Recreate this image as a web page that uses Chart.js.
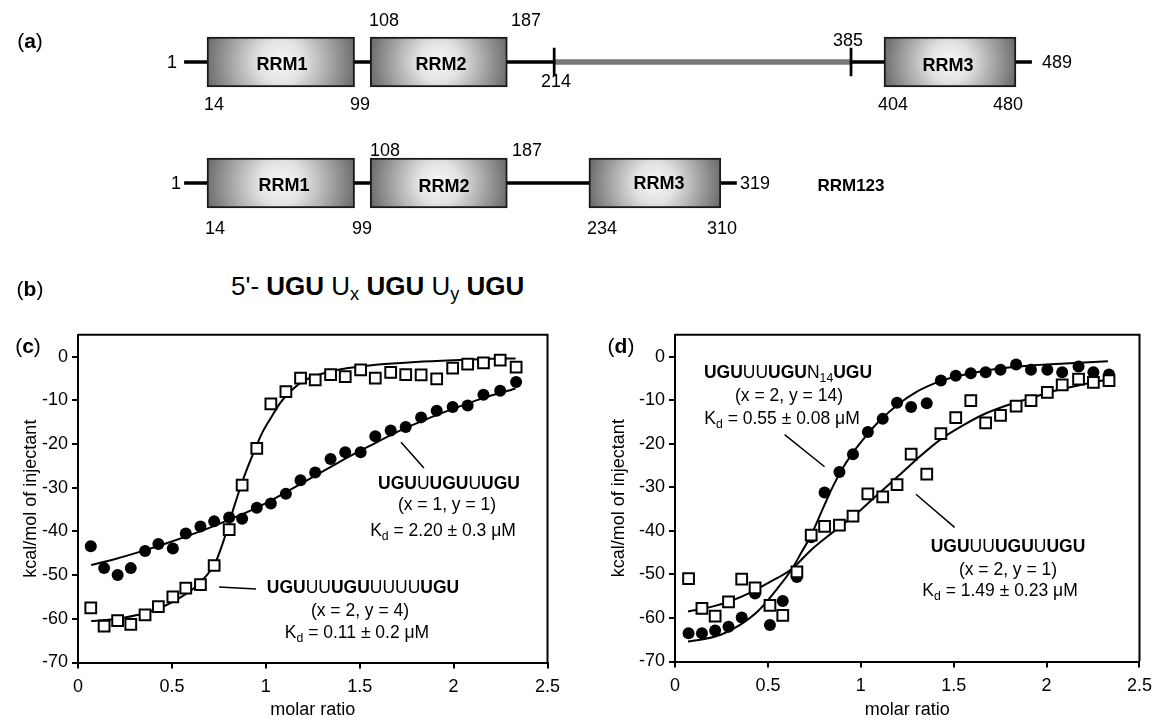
<!DOCTYPE html>
<html>
<head>
<meta charset="utf-8">
<script src="https://cdn.jsdelivr.net/npm/chart.js@4.4.1/dist/chart.umd.min.js"></script>
<style>
  html,body{margin:0;padding:0;background:#fff;}
  #wrap{position:relative;width:1160px;height:720px;background:#fff;overflow:hidden;
        font-family:"Liberation Sans",Arial,Helvetica,sans-serif;color:#000;}
  canvas{position:absolute;}
  .t{position:absolute;transform:translate(-50%,-50%);white-space:nowrap;line-height:1;}
  .l{position:absolute;transform:translate(0,-50%);white-space:nowrap;line-height:1;}
  .num{font-size:18px;}
  .dom{font-size:18px;font-weight:bold;}
  .ann{font-size:17.5px;}
  .pl{font-size:21px;}
  sub{font-size:70%;vertical-align:-0.3em;line-height:0;}
</style>
</head>
<body>
<div id="wrap">
  <canvas id="ca" width="1160" height="250" style="left:0;top:0;width:1160px;height:250px"></canvas>
  <canvas id="cc" width="580" height="401" style="left:0;top:320px;width:580px;height:401px"></canvas>
  <canvas id="cd" width="570" height="401" style="left:590px;top:320px;width:570px;height:401px"></canvas>

  <!-- panel labels -->
  <div class="t pl" style="left:30px;top:40px">(<b>a</b>)</div>
  <div class="t pl" style="left:30px;top:288px">(<b>b</b>)</div>
  <div class="t pl" style="left:28px;top:345px">(<b>c</b>)</div>
  <div class="t pl" style="left:621px;top:345px">(<b>d</b>)</div>

  <!-- panel a row 1 -->
  <div class="t num" style="left:172px;top:62px">1</div>
  <div class="t dom" style="left:282px;top:64px">RRM1</div>
  <div class="t dom" style="left:441px;top:64px">RRM2</div>
  <div class="t dom" style="left:948px;top:65px">RRM3</div>
  <div class="t num" style="left:1057px;top:62px">489</div>
  <div class="t num" style="left:384px;top:20px">108</div>
  <div class="t num" style="left:526px;top:20px">187</div>
  <div class="t num" style="left:214px;top:104px">14</div>
  <div class="t num" style="left:360px;top:104px">99</div>
  <div class="t num" style="left:556px;top:81px">214</div>
  <div class="t num" style="left:848px;top:40px">385</div>
  <div class="t num" style="left:893px;top:104px">404</div>
  <div class="t num" style="left:1008px;top:104px">480</div>
  <!-- panel a row 2 -->
  <div class="t num" style="left:176px;top:183px">1</div>
  <div class="t dom" style="left:284px;top:185px">RRM1</div>
  <div class="t dom" style="left:444px;top:186px">RRM2</div>
  <div class="t dom" style="left:659px;top:183px">RRM3</div>
  <div class="t num" style="left:755px;top:183px">319</div>
  <div class="t dom" style="left:851px;top:185px;font-size:17px">RRM123</div>
  <div class="t num" style="left:385px;top:150px">108</div>
  <div class="t num" style="left:527px;top:150px">187</div>
  <div class="t num" style="left:215px;top:228px">14</div>
  <div class="t num" style="left:362px;top:228px">99</div>
  <div class="t num" style="left:602px;top:228px">234</div>
  <div class="t num" style="left:722px;top:228px">310</div>

  <!-- panel b -->
  <div class="l" style="left:231px;top:286px;font-size:26px">5'- <b>UGU</b> U<sub>x</sub> <b>UGU</b> U<sub>y</sub> <b>UGU</b></div>

  <!-- panel c annotations -->
  <div class="t ann" style="left:449px;top:484px"><b>UGU</b>U<b>UGU</b>U<b>UGU</b></div>
  <div class="t ann" style="left:447px;top:505px">(x = 1, y = 1)</div>
  <div class="t ann" style="left:443px;top:531px">K<sub>d</sub> = 2.20 ± 0.3 μM</div>
  <div class="t ann" style="left:363px;top:588px"><b>UGU</b>UU<b>UGU</b>UUUU<b>UGU</b></div>
  <div class="t ann" style="left:360px;top:611px">(x = 2, y = 4)</div>
  <div class="t ann" style="left:357px;top:633px">K<sub>d</sub> = 0.11 ± 0.2 μM</div>

  <!-- panel d annotations -->
  <div class="t ann" style="left:788px;top:373px"><b>UGU</b>UU<b>UGU</b>N<sub>14</sub><b>UGU</b></div>
  <div class="t ann" style="left:789px;top:396px">(x = 2, y = 14)</div>
  <div class="t ann" style="left:782px;top:419px">K<sub>d</sub> = 0.55 ± 0.08 μM</div>
  <div class="t ann" style="left:1008px;top:547px"><b>UGU</b>UU<b>UGU</b>U<b>UGU</b></div>
  <div class="t ann" style="left:1008px;top:570px">(x = 2, y = 1)</div>
  <div class="t ann" style="left:1000px;top:591px">K<sub>d</sub> = 1.49 ± 0.23 μM</div>
</div>

<script>
// ---------------- DATA ----------------
// Panel (a): domain architecture (residue numbers)
const constructs = ['full length', 'RRM123'];
const backbone = [[1, 489], [1, 319]];
const rrm1 = [[14, 99], [14, 99]];
const rrm2 = [[108, 187], [108, 187]];
const rrm3 = [[404, 480], [234, 310]];
const linkerRegion = [[214, 385], null];
const linkerTick214 = [[213.4, 214.6], null];
const linkerTick385 = [[384.4, 385.6], null];

// Panel (c)
const cRatio = [0.068,0.139,0.211,0.281,0.357,0.428,0.505,0.574,0.652,0.725,0.805,0.874,0.952,1.027,1.107,1.185,1.263,1.345,1.423,1.505,1.583,1.665,1.745,1.827,1.910,1.995,2.075,2.159,2.248,2.333];
const cX2Y4 = [-57.5,-61.7,-60.4,-61.3,-59.1,-57.2,-55.0,-53.0,-52.2,-47.8,-39.6,-29.4,-21.0,-10.8,-8.0,-4.9,-5.3,-4.1,-4.6,-3.0,-4.9,-3.6,-4.1,-4.2,-5.1,-2.6,-1.7,-1.4,-0.8,-2.4];
const cX1Y1 = [-43.4,-48.4,-50.0,-48.4,-44.5,-42.9,-43.9,-40.5,-38.9,-37.7,-36.8,-37.1,-34.6,-33.6,-31.4,-28.3,-26.5,-23.4,-21.9,-21.9,-18.2,-16.9,-16.1,-13.9,-12.4,-11.5,-11.2,-8.7,-7.8,-5.8];
const cFitX2Y4x = [0.07,0.15,0.25,0.35,0.45,0.55,0.62,0.68,0.73,0.78,0.83,0.88,0.93,0.98,1.03,1.08,1.13,1.2,1.3,1.4,1.6,1.8,2.0,2.2,2.33];
const cFitX2Y4y = [-60.5,-60.3,-59.7,-58.8,-57.3,-55.0,-52.9,-50.3,-47.3,-41.5,-34.5,-28.0,-22.5,-17.5,-13.8,-10.4,-8.0,-5.6,-3.9,-2.9,-1.8,-1.2,-0.8,-0.5,-0.4];
const cFitX1Y1x = [0.07,0.2,0.35,0.5,0.65,0.8,0.95,1.1,1.25,1.4,1.55,1.7,1.85,2.0,2.15,2.33];
const cFitX1Y1y = [-47.7,-46.3,-44.4,-42.3,-40.0,-37.4,-34.6,-31.2,-27.6,-23.9,-20.5,-17.2,-14.4,-11.9,-9.6,-7.3];

// Panel (d)
const dRatio = [0.073,0.145,0.216,0.288,0.359,0.431,0.511,0.580,0.656,0.733,0.805,0.885,0.958,1.038,1.118,1.195,1.271,1.355,1.431,1.511,1.592,1.672,1.752,1.836,1.916,2.004,2.084,2.172,2.252,2.336];
const dX2Y14 = [-63.5,-63.5,-62.9,-62.0,-59.9,-54.4,-61.6,-56.1,-50.6,-41.5,-31.2,-26.5,-22.4,-17.3,-14.3,-10.6,-11.6,-10.7,-5.5,-4.4,-3.8,-3.6,-3.0,-1.8,-3.0,-3.0,-3.6,-2.3,-3.6,-4.1];
const dX2Y1 = [-51.0,-57.8,-59.6,-56.3,-51.1,-53.1,-57.1,-59.4,-49.4,-41.0,-39.0,-38.7,-36.6,-31.5,-32.2,-29.4,-22.4,-27.0,-17.7,-14.0,-10.1,-15.2,-13.5,-11.4,-10.1,-8.2,-6.5,-5.2,-5.9,-5.5];
const dFitX2Y14x = [0.07,0.15,0.25,0.35,0.45,0.55,0.63,0.68,0.73,0.8,0.85,0.9,0.95,1.0,1.05,1.1,1.2,1.3,1.4,1.5,1.7,1.9,2.1,2.33];
const dFitX2Y14y = [-65.4,-64.9,-63.8,-61.6,-58.3,-53.3,-48.7,-45.0,-41.2,-34.5,-29.8,-25.8,-22.5,-19.7,-17.1,-14.8,-11.0,-8.1,-6.1,-4.7,-3.0,-2.1,-1.6,-1.1];
const dFitX2Y1x = [0.07,0.2,0.3,0.4,0.5,0.63,0.73,0.85,1.0,1.1,1.2,1.3,1.43,1.55,1.66,1.78,1.9,2.05,2.22,2.33];
const dFitX2Y1y = [-58.5,-57.4,-56.1,-54.3,-52.0,-48.7,-44.5,-40.3,-35.2,-31.3,-27.5,-23.6,-19.0,-15.8,-13.3,-11.3,-9.7,-7.8,-6.2,-5.2];

// Axis ticks
const yTickMin = -70, yTickMax = 0, yTickStep = 10;
const xTickMin = 0, xTickMax = 2.5, xTickStep = 0.5;

// Leader lines (data coordinates)
const cLeaders = [[[1.72,-19.6],[1.842,-25.5]], [[0.751,-52.7],[0.948,-53.2]]];
const dLeaders = [[[0.59,-17.9],[0.805,-25.3]], [[1.297,-31.6],[1.505,-39.2]]];

// ---------------- RENDER ----------------
const FONT = '"Liberation Sans", Arial, Helvetica, sans-serif';
Chart.defaults.font.family = FONT;
Chart.defaults.color = '#000';
Chart.defaults.animation = false;

const pts = (xs, ys) => xs.map((x, i) => ({x, y: ys[i]}));

// ---- Panel (a)
function boxFill(ctx) {
  const chart = ctx.chart;
  if (!chart.chartArea || ctx.type !== 'data' || !ctx.raw) return '#bbb';
  const xs = chart.scales.x, ys = chart.scales.y;
  const x0 = xs.getPixelForValue(ctx.raw[0]), x1 = xs.getPixelForValue(ctx.raw[1]);
  const yc = ys.getPixelForValue(ctx.dataIndex);
  const cx = (x0 + x1) / 2, r = (x1 - x0) / 2;
  const g = chart.ctx.createRadialGradient(cx, yc, 0, cx, yc, r * 1.02);
  g.addColorStop(0, '#f7f7f7');
  g.addColorStop(0.3, '#e2e2e2');
  g.addColorStop(1, '#6c6c6c');
  return g;
}
const domainDS = (label, data) => ({
  label, data, order: 0, grouped: false, barThickness: 50,
  backgroundColor: boxFill, borderColor: '#1a1a1a', borderWidth: 2, borderSkipped: false
});
new Chart(document.getElementById('ca'), {
  type: 'bar',
  data: {
    labels: constructs,
    datasets: [
      domainDS('RRM1', rrm1), domainDS('RRM2', rrm2), domainDS('RRM3', rrm3),
      {label: 'tick214', data: linkerTick214, order: 1, grouped: false, barThickness: 28, backgroundColor: '#000', borderWidth: 0},
      {label: 'tick385', data: linkerTick385, order: 1, grouped: false, barThickness: 28, backgroundColor: '#000', borderWidth: 0},
      {label: 'linker', data: linkerRegion, order: 2, grouped: false, barThickness: 5, backgroundColor: '#777', borderWidth: 0},
      {label: 'backbone', data: backbone, order: 3, grouped: false, barThickness: 3, backgroundColor: '#000', borderWidth: 0}
    ]
  },
  options: {
    indexAxis: 'y', responsive: false, events: [],
    layout: {padding: {left: 182.7, right: 39.9, top: 1.5, bottom: 6.5}},
    plugins: {legend: {display: false}, tooltip: {enabled: false}},
    scales: {
      x: {type: 'linear', min: 0, max: 540, display: false},
      y: {type: 'category', display: false, offset: true}
    }
  }
});

// ---- ITC panels
const framePlugin = {
  id: 'frame',
  afterDatasetsDraw(chart, args, opts) {
    const {ctx, chartArea: a, scales} = chart;
    ctx.save();
    ctx.strokeStyle = '#000';
    ctx.lineWidth = 2;
    ctx.beginPath();
    ctx.moveTo(a.left, a.top); ctx.lineTo(a.right, a.top); ctx.lineTo(a.right, a.bottom);
    ctx.stroke();
    ctx.lineWidth = 1.5;
    (opts.leaders || []).forEach(([p, q]) => {
      ctx.beginPath();
      ctx.moveTo(scales.x.getPixelForValue(p[0]), scales.y.getPixelForValue(p[1]));
      ctx.lineTo(scales.x.getPixelForValue(q[0]), scales.y.getPixelForValue(q[1]));
      ctx.stroke();
    });
    ctx.restore();
  }
};

function itcChart(id, pad, yw, xh, openPts, filledPts, fitOpen, fitFilled, leaders, titlePad) {
  return new Chart(document.getElementById(id), {
    type: 'scatter',
    data: {
      datasets: [
        {label: 'open', data: openPts, pointStyle: 'rect', pointRadius: 7.6, pointBorderWidth: 2,
         pointBackgroundColor: '#fff', pointBorderColor: '#000', showLine: false},
        {label: 'filled', data: filledPts, pointStyle: 'circle', pointRadius: 6,
         pointBackgroundColor: '#000', pointBorderColor: '#000', pointBorderWidth: 0, showLine: false},
        {label: 'fitOpen', data: fitOpen, showLine: true, pointRadius: 0, borderColor: '#000',
         borderWidth: 2, tension: 0.4, cubicInterpolationMode: 'monotone', fill: false},
        {label: 'fitFilled', data: fitFilled, showLine: true, pointRadius: 0, borderColor: '#000',
         borderWidth: 2, tension: 0.4, cubicInterpolationMode: 'monotone', fill: false}
      ]
    },
    options: {
      responsive: false, events: [], clip: false,
      layout: {padding: pad},
      plugins: {legend: {display: false}, tooltip: {enabled: false}, frame: {leaders}},
      scales: {
        x: {
          type: 'linear', min: xTickMin, max: xTickMax,
          ticks: {stepSize: xTickStep, font: {size: 18}, padding: 8, maxRotation: 0,
                  callback: v => String(Number(v.toFixed(2)))},
          grid: {display: true, drawOnChartArea: false, drawTicks: true, tickLength: 6, color: '#000', lineWidth: 2},
          border: {display: true, color: '#000', width: 2},
          title: {display: true, text: 'molar ratio', font: {size: 18}, padding: {top: 0, bottom: 0}},
          afterFit: s => { s.height = xh; }
        },
        y: {
          type: 'linear', min: yTickMin, max: yTickMax + 5,
          ticks: {stepSize: yTickStep, font: {size: 18}, padding: 4},
          afterBuildTicks: s => { s.ticks = s.ticks.filter(t => t.value <= yTickMax); },
          grid: {display: true, drawOnChartArea: false, drawTicks: true, tickLength: 6, color: '#000', lineWidth: 2},
          border: {display: true, color: '#000', width: 2},
          title: {display: true, text: 'kcal/mol of injectant', font: {size: 18}, padding: {top: titlePad, bottom: 0}},
          afterFit: s => { s.width = yw; }
        }
      }
    },
    plugins: [framePlugin]
  });
}

itcChart('cc', {left: 0, top: 14.5, right: 32.5, bottom: 0}, 78, 58.5,
  pts(cRatio, cX2Y4), pts(cRatio, cX1Y1), pts(cFitX2Y4x, cFitX2Y4y), pts(cFitX1Y1x, cFitX1Y1y), cLeaders, 20);
itcChart('cd', {left: 0, top: 12.5, right: 14, bottom: 0}, 85, 59.5,
  pts(dRatio, dX2Y1), pts(dRatio, dX2Y14), pts(dFitX2Y1x, dFitX2Y1y), pts(dFitX2Y14x, dFitX2Y14y), dLeaders, 18);
</script>
</body>
</html>
